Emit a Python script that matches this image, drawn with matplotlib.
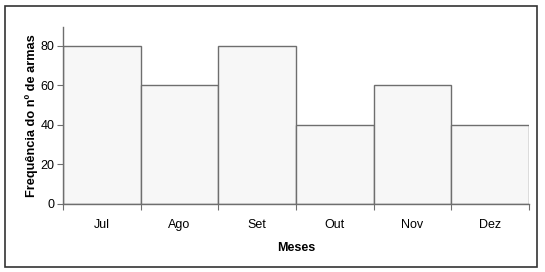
import matplotlib
matplotlib.use("Agg")
import matplotlib.pyplot as plt
from matplotlib.patches import Rectangle
import numpy as np

plt.rcParams['font.family'] = ['Liberation Sans', 'DejaVu Sans']

months = ["Jul", "Ago", "Set", "Out", "Nov", "Dez"]
values = [80, 60, 80, 40, 60, 40]
yticks = [0, 20, 40, 60, 80]

fig = plt.figure(figsize=(5.45, 2.72), dpi=100)
ax = fig.add_axes([63/545, 1-204/272, (529-63)/545, (204-27)/272])

x = np.arange(len(months))
ax.bar(x, values, width=1.0, color="#f7f7f7", edgecolor="#6e6e6e", linewidth=1.0, zorder=2)

ax.set_xlim(-0.5, len(months)-0.5)
ax.set_ylim(0, 89.6)
ax.set_yticks(yticks)
ax.set_xticks(np.arange(len(months)+1) - 0.5)
ax.set_xticklabels([])
ax.set_xticks(x, minor=True)
ax.set_xticklabels(months, minor=True)
ax.tick_params(axis='x', which='minor', length=0, pad=11, labelsize=9)
ax.tick_params(axis='x', which='major', length=4, color="#6e6e6e", direction='out')
ax.tick_params(axis='y', length=4, color="#6e6e6e", labelsize=9, pad=2)

for s in ['top', 'right']:
    ax.spines[s].set_visible(False)
for s in ['left', 'bottom']:
    ax.spines[s].set_color("#6e6e6e")
    ax.spines[s].set_linewidth(1.0)

ax.set_xlabel("Meses", fontweight='bold', fontsize=9, labelpad=8)
ax.set_ylabel("Frequência do nº de armas", fontweight='bold', fontsize=9.2, labelpad=2)

border = Rectangle((5/545, 1-267/272), 532/545, 261/272, transform=fig.transFigure,
                   fill=False, edgecolor="#333333", linewidth=1.2)
fig.patches.append(border)

fig.savefig("out.png", dpi=100)
